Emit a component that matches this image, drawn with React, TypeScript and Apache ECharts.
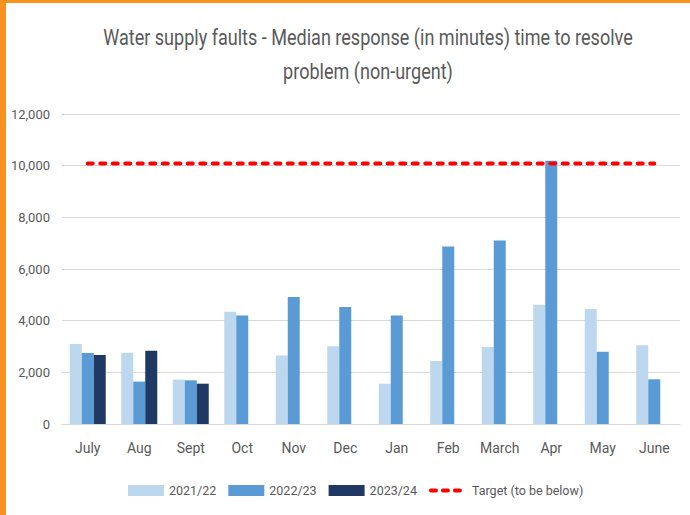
import React, { useEffect, useRef } from "react";
import * as echarts from "echarts";

const categories = ["July", "Aug", "Sept", "Oct", "Nov", "Dec", "Jan", "Feb", "March", "Apr", "May", "June"];
const s2122 = [3100, 2760, 1720, 4350, 2650, 3010, 1560, 2440, 2980, 4620, 4450, 3050];
const s2223 = [2750, 1640, 1690, 4200, 4920, 4530, 4200, 6870, 7100, 10190, 2800, 1730];
const s2324 = [2670, 2840, 1560, null, null, null, null, null, null, null, null, null];
const target = [10080, 10080, 10080, 10080, 10080, 10080, 10080, 10080, 10080, 10080, 10080, 10080];
const yTicks = { min: 0, max: 12000, interval: 2000 };
const titleLines = ["Water supply faults - Median response (in minutes) time to resolve", "problem (non-urgent)"];

const FONT = 'Roboto, "Liberation Sans", sans-serif';
const GREY = "#595959";

export default function App() {
  const ref = useRef<HTMLDivElement>(null);
  useEffect(() => {
    if (!ref.current) return;
    const chart = echarts.init(ref.current, undefined, { renderer: "svg" });
    chart.setOption({
      animation: false,
      backgroundColor: "#ffffff",
      grid: { left: 62, right: 10, top: 114, bottom: 91, containLabel: false },
      legend: {
        top: 479,
        left: 123,
        itemWidth: 36,
        itemHeight: 11,
        itemGap: 12,
        textStyle: { fontFamily: FONT, fontSize: 12.5, color: GREY },
        data: [
          { name: "2021/22", icon: "rect" },
          { name: "2022/23", icon: "rect" },
          { name: "2023/24", icon: "rect" },
          {
            name: "Target (to be below)",
            itemStyle: { opacity: 0 },
            lineStyle: { color: "#FF0000", width: 4, type: [5, 7], cap: "round" },
          },
        ],
      },
      xAxis: {
        type: "category",
        data: categories,
        axisTick: { show: false },
        axisLine: { lineStyle: { color: "#D9D9D9", width: 1 } },
        axisLabel: { fontFamily: FONT, fontSize: 14, color: GREY, margin: 17, interval: 0 },
      },
      yAxis: {
        type: "value",
        min: yTicks.min,
        max: yTicks.max,
        interval: yTicks.interval,
        axisLine: { show: false },
        axisTick: { show: false },
        splitLine: { lineStyle: { color: "#D9D9D9", width: 1 } },
        axisLabel: {
          fontFamily: FONT,
          fontSize: 13,
          color: GREY,
          margin: 12,
          formatter: (v: number) => v.toLocaleString("en-US"),
        },
      },
      series: [
        { name: "2021/22", type: "bar", data: s2122, barWidth: 12, barGap: "0%", itemStyle: { color: "#BDD7EE" } },
        { name: "2022/23", type: "bar", data: s2223, barWidth: 12, barGap: "0%", itemStyle: { color: "#5B9BD5" } },
        { name: "2023/24", type: "bar", data: s2324, barWidth: 12, barGap: "0%", itemStyle: { color: "#203864" } },
        {
          name: "Target (to be below)",
          type: "line",
          data: target,
          symbol: "none",
          z: 5,
          lineStyle: { color: "#FF0000", width: 4, type: [5, 7.5], cap: "round" },
          itemStyle: { color: "#FF0000" },
        },
      ],
      graphic: [
        {
          type: "text",
          x: 368,
          y: 26,
          scaleX: 0.82,
          style: {
            text: titleLines[0],
            fontFamily: FONT,
            fontSize: 22,
            fill: GREY,
            align: "center",
          },
        },
        {
          type: "text",
          x: 368,
          y: 60,
          scaleX: 0.82,
          style: {
            text: titleLines[1],
            fontFamily: FONT,
            fontSize: 22,
            fill: GREY,
            align: "center",
          },
        },
        { type: "rect", left: 0, top: 0, shape: { width: 6, height: 515 }, style: { fill: "#F7931E" }, z: 100 },
        { type: "rect", left: 0, top: 0, shape: { width: 690, height: 3 }, style: { fill: "#F7931E" }, z: 100 },
      ],
    });
    return () => chart.dispose();
  }, []);
  return (
    <div
      ref={ref}
      style={{ position: "absolute", left: 0, top: 0, width: 690, height: 515 }}
    />
  );
}
